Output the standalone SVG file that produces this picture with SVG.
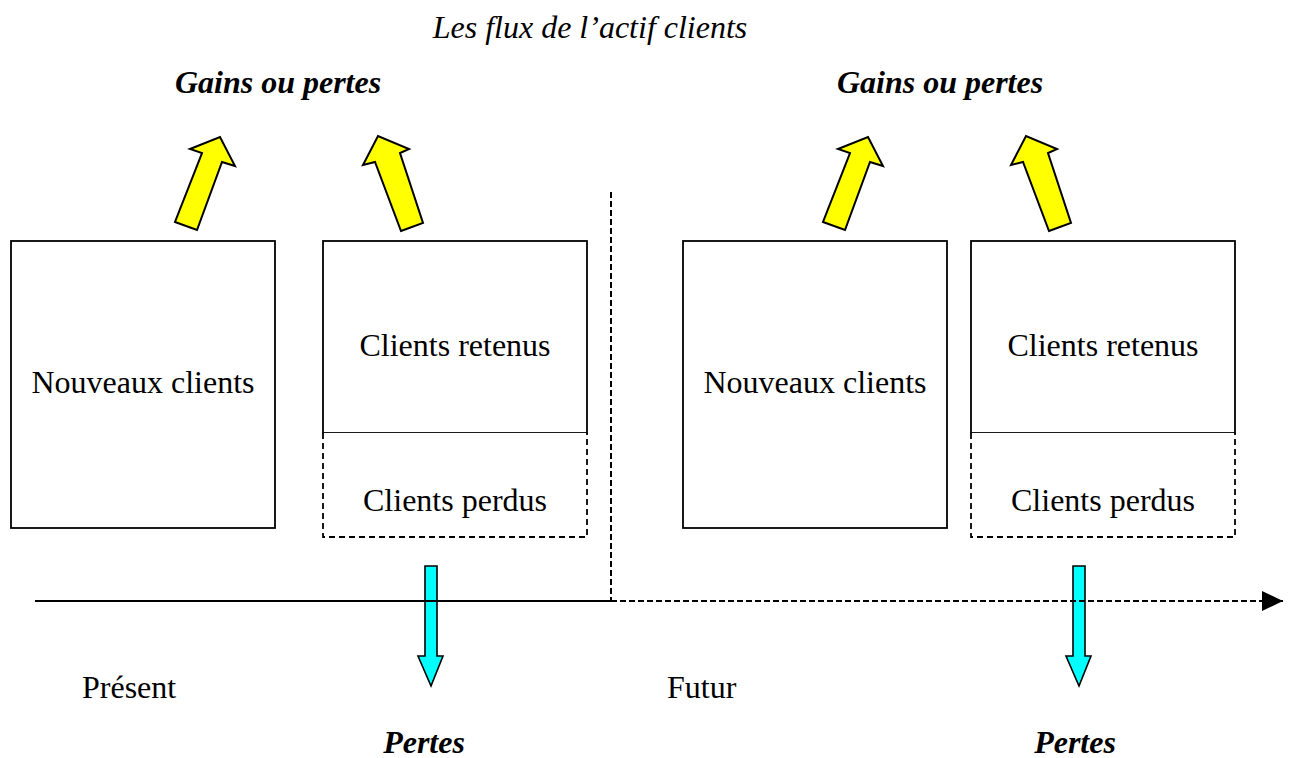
<svg xmlns="http://www.w3.org/2000/svg" width="1293" height="758" viewBox="0 0 1293 758">
  <style>
    text { font-family: "Liberation Serif", "Times New Roman", serif; font-size: 32px; fill: #000; }
    .title { font-style: italic; }
    .head { font-style: italic; font-weight: bold; }
    .box { fill: #fff; stroke: #000; stroke-width: 1.8; }
    .lost { fill: #fff; stroke: #000; stroke-width: 1.8; stroke-dasharray: 6 4; }
    .gain { fill: #ffff00; stroke: #000; stroke-width: 2; stroke-linejoin: miter; }
    .loss { fill: #00ffff; stroke: #000; stroke-width: 1.6; }
    .axis { stroke: #000; stroke-width: 2; fill: none; }
    .dash { stroke: #000; stroke-width: 2; fill: none; stroke-dasharray: 6 3; }
  </style>
  <defs>
    <polygon id="arrow-up-right" points="175,222 197,230 222,162 235,166 220,137 190,149 202,153"/>
    <polygon id="arrow-up-left" points="401,231 423,223 400,153 409,149 378,136 363,165 375,162"/>
    <polygon id="arrow-down" points="425,566 437,566 437,656 443,656 431,686 418,656 425,656"/>
    <marker id="tip" markerWidth="22" markerHeight="22" refX="21" refY="11" orient="auto" markerUnits="userSpaceOnUse">
      <polygon points="0,1 21,11 0,21" fill="#000"/>
    </marker>
  </defs>

  <text class="title" x="590" y="38" text-anchor="middle">Les flux de l’actif clients</text>
  <text class="head" x="278" y="93" text-anchor="middle">Gains ou pertes</text>
  <text class="head" x="940" y="93" text-anchor="middle">Gains ou pertes</text>

  <!-- gain/loss arrows above the boxes -->
  <g id="gains">
    <use href="#arrow-up-right" class="gain"/>
    <use href="#arrow-up-left" class="gain"/>
    <use href="#arrow-up-right" class="gain" transform="translate(648,0)"/>
    <use href="#arrow-up-left" class="gain" transform="translate(648,0)"/>
  </g>

  <!-- present -->
  <g id="nouveaux-present">
    <rect class="box" x="11" y="241" width="264" height="287"/>
    <text x="143" y="393" text-anchor="middle">Nouveaux clients</text>
  </g>
  <g id="retenus-present">
    <rect class="box" x="323" y="241" width="264" height="192"/>
    <text x="455" y="356" text-anchor="middle">Clients retenus</text>
  </g>
  <g id="perdus-present">
    <path class="lost" d="M323,433 V537 H587 V433"/>
    <text x="455" y="511" text-anchor="middle">Clients perdus</text>
  </g>

  <!-- future -->
  <g id="nouveaux-futur">
    <rect class="box" x="683" y="241" width="264" height="287"/>
    <text x="815" y="393" text-anchor="middle">Nouveaux clients</text>
  </g>
  <g id="retenus-futur">
    <rect class="box" x="971" y="241" width="264" height="192"/>
    <text x="1103" y="356" text-anchor="middle">Clients retenus</text>
  </g>
  <g id="perdus-futur">
    <path class="lost" d="M971,433 V537 H1235 V433"/>
    <text x="1103" y="511" text-anchor="middle">Clients perdus</text>
  </g>

  <!-- losses leaving downward -->
  <g id="pertes">
    <use href="#arrow-down" class="loss"/>
    <use href="#arrow-down" class="loss" transform="translate(648,0)"/>
  </g>

  <!-- time axis and present/future divider -->
  <g id="connectors">
    <line class="dash" x1="611" y1="192" x2="611" y2="601"/>
    <line class="axis" x1="35" y1="601" x2="611" y2="601"/>
    <line class="dash" x1="611" y1="601" x2="1283" y2="601" marker-end="url(#tip)"/>
  </g>

  <text x="82" y="698">Présent</text>
  <text x="667" y="698">Futur</text>
  <text class="head" x="424" y="753" text-anchor="middle">Pertes</text>
  <text class="head" x="1075" y="753" text-anchor="middle">Pertes</text>
</svg>
